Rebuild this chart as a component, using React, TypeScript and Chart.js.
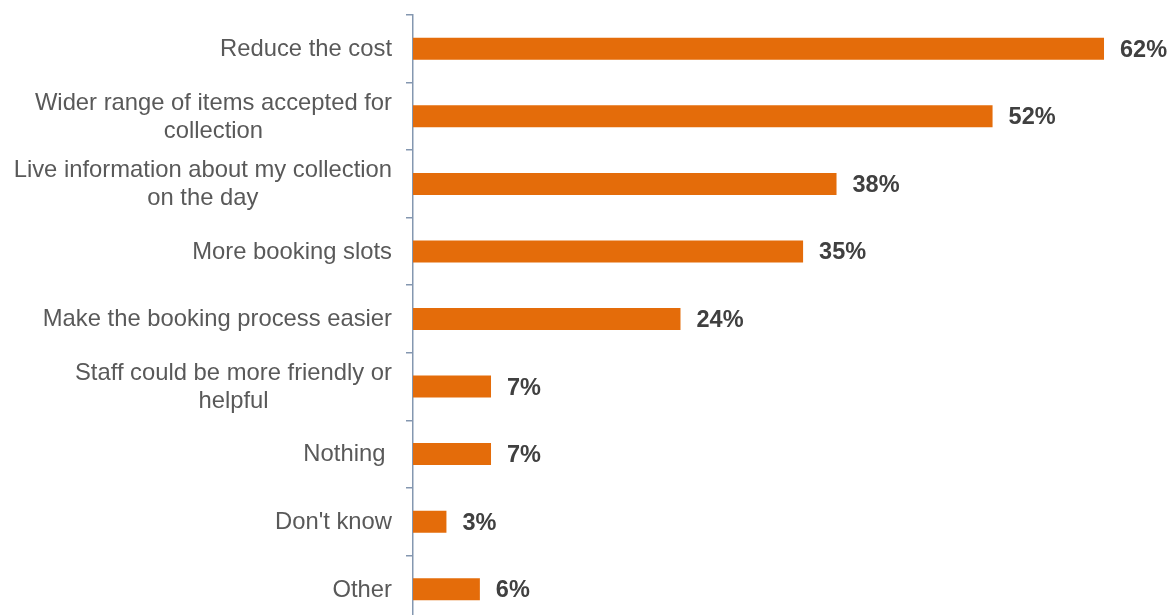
import React, { useEffect, useRef } from "react";
import { Chart, registerables } from "chart.js";

Chart.register(...registerables);

const categories: (string | string[])[] = [
  "Reduce the cost",
  ["Wider range of items accepted for", "collection"],
  ["Live information about my collection", "on the day"],
  "More booking slots",
  "Make the booking process easier",
  ["Staff could be more friendly or", "helpful"],
  "Nothing ",
  "Don't know",
  "Other",
];
const values: number[] = [62, 52, 38, 35, 24, 7, 7, 3, 6];
const valueLabels: string[] = ["62%", "52%", "38%", "35%", "24%", "7%", "7%", "3%", "6%"];

const FONT = "'Liberation Sans', Arial, sans-serif";

export default function App() {
  const ref = useRef<HTMLCanvasElement | null>(null);
  useEffect(() => {
    if (!ref.current) return;
    const labelPlugin = {
      id: "valueLabels",
      afterDatasetsDraw(chart: any) {
        const ctx = chart.ctx;
        const meta = chart.getDatasetMeta(0);
        ctx.save();
        ctx.font = `bold 23.5px ${FONT}`;
        ctx.fillStyle = "#404040";
        ctx.textAlign = "left";
        ctx.textBaseline = "middle";
        meta.data.forEach((bar: any, i: number) => {
          ctx.fillText(valueLabels[i], bar.x + 16, bar.y + 1.5);
        });
        ctx.restore();
      },
    };
    const catPlugin = {
      id: "catLabels",
      afterDraw(chart: any) {
        const ctx = chart.ctx;
        const scale = chart.scales.y;
        const right = scale.right - 7 - 14;
        const lh = 27.6;
        ctx.save();
        ctx.font = `23.8px ${FONT}`;
        ctx.fillStyle = "#595959";
        ctx.textAlign = "center";
        ctx.textBaseline = "middle";
        categories.forEach((lab, i) => {
          const lines = Array.isArray(lab) ? lab : [lab];
          const maxW = Math.max(...lines.map((l) => ctx.measureText(l).width));
          const cx = right - maxW / 2;
          const y = scale.getPixelForTick(i) + 0.8;
          lines.forEach((l, k) => {
            ctx.fillText(l, cx, y + (k - (lines.length - 1) / 2) * lh);
          });
        });
        ctx.restore();
      },
    };
    const chart = new Chart(ref.current, {
      type: "bar",
      data: {
        labels: categories,
        datasets: [
          {
            data: values,
            backgroundColor: "#E46C0A",
            borderWidth: 0,
            barPercentage: 0.326,
            categoryPercentage: 1,
          },
        ],
      },
      options: {
        indexAxis: "y",
        responsive: false,
        animation: false,
        layout: { padding: { top: 15, left: 0, right: 0, bottom: 0 } },
        plugins: { legend: { display: false }, tooltip: { enabled: false } },
        scales: {
          x: { display: false, min: 0, max: 68.1 },
          y: {
            afterFit(scale: any) {
              scale.width = 413;
              scale.paddingTop = 0;
              scale.paddingBottom = 0;
            },
            grid: {
              offset: true,
              drawOnChartArea: false,
              drawTicks: true,
              tickLength: 7,
              color: "#8497B0",
              lineWidth: 1.5,
            },
            border: { display: true, color: "#8497B0", width: 1.5 },
            ticks: {
              padding: 14,
              color: "rgba(0,0,0,0)",
              font: { family: FONT, size: 23.8, lineHeight: 1.15 },
            },
          },
        },
      },
      plugins: [labelPlugin, catPlugin],
    });
    return () => chart.destroy();
  }, []);
  return (
    <div style={{ position: "absolute", left: 0, top: 0, width: 1172, height: 615, overflow: "hidden", background: "#fff" }}>
      <canvas ref={ref} width={1172} height={623} style={{ display: "block" }} />
    </div>
  );
}
